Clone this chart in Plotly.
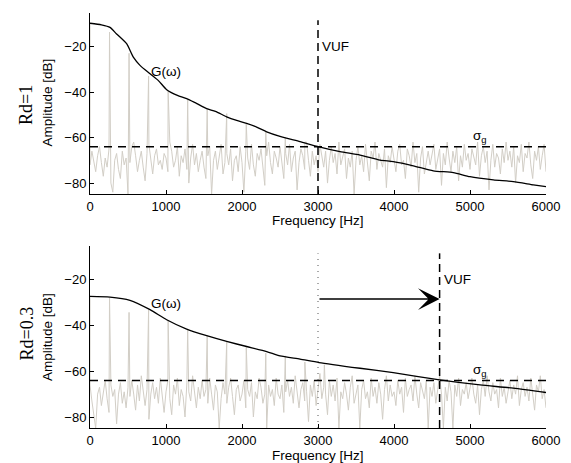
import plotly.graph_objects as go
from plotly.subplots import make_subplots

# ---------------- data ----------------
noise_freq = list(range(0, 6001, 25))

noise_top = [
    -72, -66, -70, -75, -68, -64, -71, -77, -69, -73, -65, -80, -84, -70, -67, -74, -78, -66, -72, -69,
    -85, -71, -64, -62, -68, -75, -70, -66, -73, -79, -67, -63, -71, -76, -68, -65, -72, -70, -74, -67,
    -69, -75, -62, -66, -73, -70, -64, -77, -68, -71, -65, -74, -80, -69, -63, -72, -67, -75, -70, -66,
    -73, -78, -68, -64, -85, -70, -66, -74, -69, -63, -76, -71, -67, -72, -65, -79, -70, -68, -75, -64,
    -71, -84, -66, -69, -74, -63, -72, -77, -67, -70, -65, -73, -81, -68, -62, -71, -76, -66, -69, -73,
    -64, -70, -78, -67, -72, -63, -75, -69, -66, -83, -71, -65, -68, -74, -62, -70, -77, -66, -72, -68,
    -75, -63, -69, -73, -66, -80, -70, -64, -71, -67, -76, -62, -72, -68, -65, -78, -69, -73, -66, -85,
    -70, -64, -72, -68, -75, -63, -71, -79, -66, -69, -62, -74, -67, -70, -73, -65, -82, -68, -71, -64,
    -69, -75, -66, -63, -72, -70, -78, -65, -68, -73, -62, -71, -67, -84, -69, -64, -76, -70, -66, -72,
    -68, -63, -74, -70, -65, -81, -67, -72, -62, -69, -75, -66, -71, -64, -79, -68, -73, -63, -70, -67,
    -74, -65, -69, -72, -62, -77, -68, -64, -71, -66, -83, -70, -63, -73, -67, -69, -76, -65, -71, -62,
    -70, -66, -73, -64, -80, -68, -71, -63, -75, -67, -69, -62, -72, -78, -66, -70, -64, -74, -68, -63,
    -75,
]

noise_bottom = [
    -66, -73, -80, -85, -70, -67, -75, -69, -64, -72, -78, -66, -71, -68, -83, -70, -65, -74, -69, -76,
    -67, -71, -64, -70, -77, -66, -73, -62, -69, -75, -68, -81, -70, -65, -72, -67, -74, -63, -70, -78,
    -69, -64, -72, -79, -66, -70, -63, -75, -68, -71, -80, -65, -69, -73, -62, -70, -76, -67, -72, -64,
    -71, -68, -74, -63, -70, -77, -66, -69, -85, -72, -65, -70, -74, -67, -63, -71, -79, -68, -66, -73,
    -70, -64, -76, -68, -71, -65, -80, -69, -72, -63, -67, -74, -70, -85, -66, -71, -68, -75, -63, -70,
    -72, -66, -78, -69, -64, -71, -67, -74, -62, -70, -76, -68, -65, -73, -69, -82, -66, -71, -64, -75,
    -68, -61, -72, -67, -70, -79, -64, -71, -66, -73, -63, -85, -69, -72, -65, -70, -77, -67, -62, -74,
    -70, -66, -85, -68, -64, -72, -69, -76, -63, -71, -67, -74, -65, -70, -81, -68, -62, -73, -66, -71,
    -69, -75, -64, -70, -67, -78, -63, -71, -68, -66, -73, -62, -70, -76, -65, -69, -72, -64, -85, -67,
    -71, -65, -74, -68, -62, -70, -85, -67, -73, -64, -69, -85, -66, -71, -63, -75, -68, -70, -65, -72,
    -67, -63, -70, -74, -66, -79, -68, -64, -71, -62, -69, -73, -65, -70, -68, -76, -63, -71, -67, -74,
    -69, -64, -72, -66, -70, -62, -75, -68, -65, -71, -67, -73, -63, -70, -77, -66, -69, -62, -72, -68,
    -76,
]

harm_freq_top = [0, 257, 514, 771, 1028, 1285, 1542, 1799, 2056, 2313, 2570, 2827]
harm_db_top = [-10, -13.7, -23, -33, -39.5, -43.5, -47.5, -49.5, -54, -57.5, -60, -62]

harm_freq_bottom = [0, 257, 514, 771, 1028, 1285, 1542, 1799, 2056, 2313, 2570, 2827, 3084]
harm_db_bottom = [-27.5, -28, -34.3, -33.2, -37.8, -41.6, -44.5, -47.2, -49.2, -52.1, -53.3, -56, -57.2]

g_freq_top = [0, 150, 263, 350, 482, 570, 658, 790, 900, 1009, 1150, 1272, 1400, 1535, 1650, 1798,
              1930, 2061, 2200, 2325, 2500, 2763, 3013, 3290, 3553, 3816, 3990, 4254, 4517, 4781,
              5000, 5307, 5570, 5833, 6000]
g_db_top = [-9.8, -10.5, -11.6, -14.5, -18.8, -24.7, -28.3, -32, -35, -39, -41.5, -42.9, -45, -47.3,
            -48.5, -50.9, -52.5, -53.8, -55.5, -57.5, -59.5, -61.8, -64.1, -66.2, -67.7, -69.9, -70.6,
            -72.4, -74.6, -75.4, -77.2, -78.6, -79.4, -80.8, -81.6]

g_freq_bottom = [0, 263, 526, 790, 1009, 1272, 1535, 1798, 2061, 2325, 2500, 2763, 3013, 3553, 3990,
                 4600, 5132, 5570, 6000]
g_db_bottom = [-27.3, -27.6, -29, -33.1, -37.5, -41.6, -44.5, -47, -49.2, -51.4, -53.3, -54.7, -56.2,
               -58.7, -60.6, -63.8, -66, -67.4, -69.3]

sigma_g = -64
vuf_top = 3000
vuf_bottom = 4600
vuf_prev = 3000
line_top_db = -8.5
arrow_db = -28.5
x_range = [0, 6000]
y_range = [-84.8, -5.3]
x_ticks = [0, 1000, 2000, 3000, 4000, 5000, 6000]
y_ticks = [-80, -60, -40, -20]
panel_labels = ["Rd=1", "Rd=0.3"]


def merge(nf, nv, hf, hv):
    pts = [(f, 0, v) for f, v in zip(hf, hv)] + [(f, 1, v) for f, v in zip(nf, nv)]
    pts.sort()
    return [p[0] for p in pts], [p[2] for p in pts]


fig = make_subplots(rows=2, cols=1)

SANS = "Liberation Sans, Arial, sans-serif"
SERIF = "Liberation Serif, Times New Roman, serif"
GREY = "#d2cec6"

panels = [
    (1, noise_top, harm_freq_top, harm_db_top, g_freq_top, g_db_top, vuf_top),
    (2, noise_bottom, harm_freq_bottom, harm_db_bottom, g_freq_bottom, g_db_bottom, vuf_bottom),
]

for row, nz, hf, hv, gf, gv, vuf in panels:
    sx, sy = merge(noise_freq, nz, hf, hv)
    fig.add_trace(go.Scatter(x=sx, y=sy, mode="lines", line=dict(color=GREY, width=1),
                             showlegend=False, hoverinfo="skip"), row=row, col=1)
    fig.add_trace(go.Scatter(x=x_range, y=[sigma_g, sigma_g], mode="lines",
                             line=dict(color="black", width=1.5, dash="8px,6px"),
                             showlegend=False), row=row, col=1)
    fig.add_trace(go.Scatter(x=gf, y=gv, mode="lines",
                             line=dict(color="black", width=1.3, shape="spline", smoothing=0.6),
                             showlegend=False), row=row, col=1)
    fig.add_trace(go.Scatter(x=[vuf, vuf], y=[y_range[0], line_top_db], mode="lines",
                             line=dict(color="black", width=1.5, dash="8px,5px"),
                             showlegend=False), row=row, col=1)

# dotted previous VUF in bottom panel
fig.add_trace(go.Scatter(x=[vuf_prev, vuf_prev], y=[y_range[0], line_top_db], mode="lines",
                         line=dict(color="#555555", width=1, dash="1px,5px"),
                         showlegend=False), row=2, col=1)

axis_common = dict(showgrid=False, zeroline=False, showline=True, linecolor="black",
                   linewidth=1, ticks="inside", ticklen=4, tickcolor="black", mirror=False,
                   tickfont=dict(family=SANS, size=13, color="black"))

for r in (1, 2):
    fig.update_xaxes(range=x_range, tickvals=x_ticks, **axis_common, row=r, col=1)
    fig.update_yaxes(range=y_range, tickvals=y_ticks, **axis_common, row=r, col=1)

H = 463
plot_top, plot_bottom = 13, 428
ph = plot_bottom - plot_top


def py(p):
    return (plot_bottom - p) / ph


def px(p):
    return (p - 90) / 456


fig.update_layout(
    width=571, height=463,
    margin=dict(l=90, r=25, t=plot_top, b=H - plot_bottom),
    paper_bgcolor="white", plot_bgcolor="white",
    yaxis=dict(domain=[py(194), 1.0]),
    yaxis2=dict(domain=[0.0, py(246)]),
    showlegend=False,
)

ann = []
for i, (yc_rd, yc_amp, yc_freq) in enumerate([(105, 102.5, 221), (333.5, 337, 455)]):
    ann.append(dict(xref="paper", yref="paper", x=px(26), y=py(yc_rd), text=panel_labels[i],
                    textangle=-90, showarrow=False, xanchor="center", yanchor="middle",
                    font=dict(family=SERIF, size=18, color="black")))
    ann.append(dict(xref="paper", yref="paper", x=px(47), y=py(yc_amp), text="Amplitude [dB]",
                    textangle=-90, showarrow=False, xanchor="center", yanchor="middle",
                    font=dict(family=SANS, size=13.5, color="black")))
    ann.append(dict(xref="paper", yref="paper", x=0.5, y=py(yc_freq), text="Frequency [Hz]",
                    showarrow=False, xanchor="center", yanchor="middle",
                    font=dict(family=SANS, size=13.5, color="black")))

for i, (xr, yr, vuf) in enumerate([("x", "y", vuf_top), ("x2", "y2", vuf_bottom)]):
    ann.append(dict(xref=xr, yref=yr, x=vuf, y=-20, text="VUF", showarrow=False,
                    xanchor="left", yanchor="middle", xshift=2,
                    font=dict(family=SANS, size=13.5, color="black")))
    ann.append(dict(xref=xr, yref=yr, x=776, y=-31 if i == 0 else -30.5, text="G(ω)", showarrow=False,
                    xanchor="left", yanchor="middle",
                    font=dict(family=SANS, size=13.5, color="black")))
    ann.append(dict(xref=xr, yref=yr, x=5010, y=-59.5, text="σ<sub>g</sub>", showarrow=False,
                    xanchor="left", yanchor="middle",
                    font=dict(family=SANS, size=13.5, color="black")))

ann.append(dict(xref="x2", yref="y2", x=vuf_bottom, y=arrow_db, axref="x2", ayref="y2",
                ax=vuf_prev, ay=arrow_db, text="", showarrow=True, arrowhead=3,
                arrowsize=2.4, arrowwidth=1.5, arrowcolor="black", standoff=0))

fig.update_layout(annotations=ann)

fig.write_html("out.html")
